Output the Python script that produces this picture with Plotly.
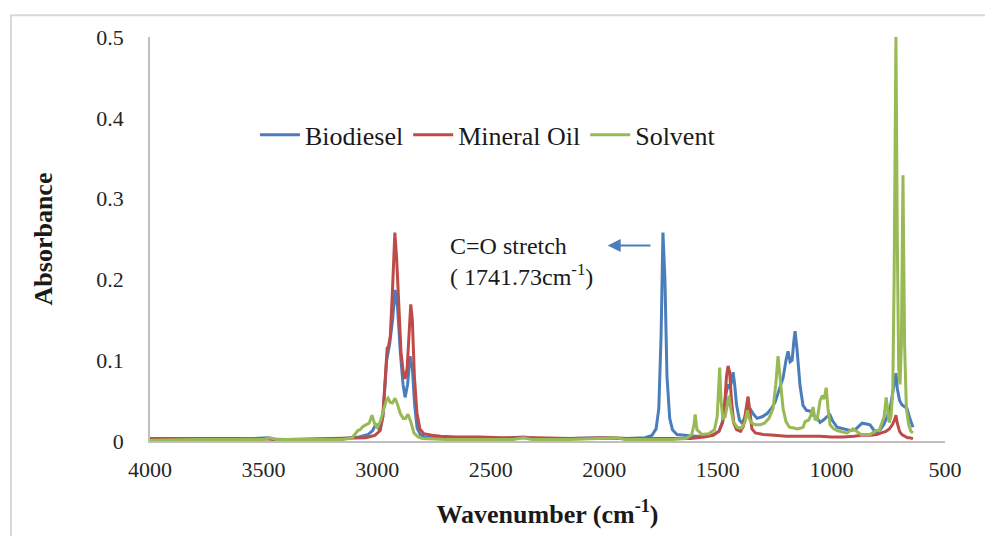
import plotly.graph_objects as go

# FTIR absorbance spectra (wavenumber in cm-1, absorbance)
biodiesel_wn = [4000, 3800, 3600, 3480, 3460, 3300, 3150, 3080, 3040, 3020, 3005, 2987,
                2975, 2965, 2958, 2945, 2932, 2921, 2910, 2898, 2886, 2877, 2866, 2855,
                2845, 2835, 2824, 2810, 2790, 2750, 2600, 2450, 2357, 2300, 2150, 2000,
                1900, 1820, 1790, 1772, 1760, 1750, 1741.73, 1733, 1724, 1712, 1700, 1680,
                1650, 1600, 1560, 1520, 1495, 1478, 1466, 1456, 1446, 1438, 1433, 1426,
                1418, 1405, 1393, 1380, 1370, 1358, 1343, 1327, 1305, 1283, 1265, 1248,
                1230, 1213, 1200, 1191, 1182, 1173, 1165, 1160, 1152, 1145, 1138, 1125,
                1110, 1094, 1081, 1065, 1050, 1035, 1020, 1006, 995, 975, 950, 918,
                895, 880, 865, 845, 830, 815, 799, 785, 770, 755, 742, 730, 722,
                716, 710, 700, 690, 678, 667, 655, 641]
biodiesel_abs = [0.002, 0.002, 0.002, 0.004, 0.002, 0.002, 0.003, 0.005, 0.008, 0.013, 0.021, 0.012,
                 0.03, 0.07, 0.1, 0.12, 0.15, 0.187, 0.165, 0.11, 0.07, 0.054, 0.07, 0.105,
                 0.09, 0.045, 0.016, 0.008, 0.005, 0.004, 0.003, 0.003, 0.005, 0.003, 0.003, 0.004,
                 0.003, 0.004, 0.007, 0.015, 0.04, 0.13, 0.258, 0.2, 0.08, 0.028, 0.014, 0.008,
                 0.007, 0.006, 0.006, 0.008, 0.012, 0.025, 0.055, 0.07, 0.065, 0.075, 0.085, 0.07,
                 0.045, 0.026, 0.022, 0.03, 0.04, 0.04, 0.033, 0.028, 0.03, 0.034, 0.04, 0.048,
                 0.065, 0.078, 0.1, 0.111, 0.098, 0.1, 0.125, 0.136, 0.115, 0.09, 0.068, 0.044,
                 0.038, 0.037, 0.032, 0.029, 0.023, 0.026, 0.03, 0.032, 0.025, 0.017, 0.015, 0.013,
                 0.014, 0.018, 0.022, 0.021, 0.02, 0.014, 0.011, 0.014, 0.02, 0.03, 0.04, 0.06, 0.075,
                 0.084, 0.065, 0.05, 0.045, 0.042, 0.04, 0.028, 0.017]

mineral_wn = [4000, 3800, 3600, 3400, 3200, 3100, 3050, 3010, 2990, 2975, 2965, 2956,
              2950, 2942, 2932, 2922, 2914, 2905, 2895, 2885, 2877, 2868, 2860, 2852,
              2845, 2836, 2825, 2812, 2795, 2760, 2720, 2650, 2550, 2450, 2300, 2150,
              2000, 1900, 1800, 1700, 1620, 1560, 1520, 1495, 1480, 1470, 1462, 1455,
              1448, 1440, 1430, 1418, 1400, 1388, 1380, 1373, 1367, 1360, 1350, 1335,
              1300, 1250, 1200, 1150, 1100, 1050, 1000, 950, 900, 870, 830, 800,
              780, 760, 745, 732, 722, 716, 710, 700, 690, 680, 665, 655, 641]
mineral_abs = [0.003, 0.003, 0.003, 0.002, 0.003, 0.003, 0.004, 0.007, 0.012, 0.03, 0.07, 0.115,
               0.117, 0.13, 0.19, 0.258, 0.225, 0.16, 0.11, 0.085, 0.077, 0.09, 0.13, 0.169,
               0.15, 0.08, 0.035, 0.015, 0.009, 0.007, 0.006, 0.005, 0.005, 0.004, 0.004, 0.003,
               0.004, 0.003, 0.003, 0.003, 0.003, 0.005, 0.007, 0.012, 0.022, 0.045, 0.08, 0.093,
               0.085, 0.05, 0.022, 0.014, 0.012, 0.018, 0.03, 0.045, 0.055, 0.035, 0.015, 0.01,
               0.008, 0.007, 0.006, 0.006, 0.006, 0.006, 0.005, 0.005, 0.006, 0.007, 0.007, 0.008,
               0.01, 0.012, 0.015, 0.02, 0.026, 0.032, 0.022, 0.012, 0.008, 0.006, 0.004, 0.004, 0.003]

solvent_wn = [4000, 3800, 3600, 3500, 3472, 3445, 3300, 3150, 3110, 3095, 3085, 3075,
              3062, 3050, 3035, 3023, 3012, 3000, 2985, 2970, 2960, 2952, 2943, 2933,
              2921, 2910, 2898, 2885, 2875, 2864, 2852, 2838, 2820, 2800, 2700, 2550,
              2400, 2357, 2320, 2150, 2000, 1944, 1910, 1800, 1700, 1640, 1615, 1605,
              1600, 1592, 1570, 1540, 1515, 1503, 1497, 1492, 1486, 1478, 1468, 1458,
              1451, 1443, 1432, 1415, 1395, 1380, 1370, 1362, 1350, 1335, 1314, 1295,
              1275, 1257, 1245, 1235, 1226, 1213, 1200, 1185, 1165, 1151, 1135, 1125,
              1116, 1100, 1090, 1081, 1072, 1063, 1050, 1040, 1032, 1023, 1015, 1006,
              990, 975, 950, 931, 905, 885, 870, 850, 830, 803, 790, 777, 768,
              759, 752, 746, 738, 730, 724, 716, 710, 704, 698, 692, 685, 678,
              670, 660, 650, 641]
solvent_abs = [0.001, 0.002, 0.002, 0.002, 0.004, 0.002, 0.002, 0.002, 0.004, 0.01, 0.013, 0.014,
               0.018, 0.02, 0.022, 0.032, 0.022, 0.016, 0.025, 0.04, 0.05, 0.053, 0.048, 0.047,
               0.053, 0.045, 0.034, 0.028, 0.028, 0.033, 0.024, 0.01, 0.005, 0.003, 0.002, 0.002,
               0.002, 0.004, 0.002, 0.002, 0.003, 0.004, 0.002, 0.002, 0.002, 0.003, 0.008, 0.02,
               0.033, 0.014, 0.008, 0.009, 0.014, 0.03, 0.06, 0.091, 0.05, 0.028, 0.03, 0.045,
               0.056, 0.04, 0.024, 0.017, 0.016, 0.024, 0.038, 0.028, 0.022, 0.02, 0.02, 0.022,
               0.028, 0.04, 0.07, 0.105, 0.08, 0.04, 0.024, 0.017, 0.016, 0.015, 0.016, 0.017,
               0.024, 0.026, 0.032, 0.042, 0.027, 0.026, 0.05, 0.056, 0.052, 0.066, 0.04, 0.02,
               0.015, 0.013, 0.011, 0.01, 0.015, 0.011, 0.008, 0.008, 0.008, 0.013, 0.013, 0.023, 0.03,
               0.054, 0.035, 0.023, 0.03, 0.06, 0.2, 0.5, 0.25, 0.09, 0.07, 0.12, 0.329, 0.12,
               0.04, 0.02, 0.012, 0.01]

x_ticks = [4000, 3500, 3000, 2500, 2000, 1500, 1000, 500]
y_ticks = [0, 0.1, 0.2, 0.3, 0.4, 0.5]
y_tick_text = ["0", "0.1", "0.2", "0.3", "0.4", "0.5"]

series_names = ["Biodiesel", "Mineral Oil", "Solvent"]
series_colors = ["#4a7ebb", "#be4b48", "#98b954"]

SERIF = "Liberation Serif, Times New Roman, serif"

fig = go.Figure()
for name, color, wn, ab in zip(series_names, series_colors,
                               [biodiesel_wn, mineral_wn, solvent_wn],
                               [biodiesel_abs, mineral_abs, solvent_abs]):
    fig.add_trace(go.Scatter(x=wn, y=ab, mode="lines", name=name,
                             line=dict(color=color, width=3),
                             cliponaxis=True))

# carbonyl band label with arrow
fig.add_annotation(x=2688, y=0.222, xref="x", yref="y",
                   text="C=O stretch<br>( 1741.73cm<sup>-1</sup>)",
                   showarrow=False, xanchor="left", yanchor="middle", align="left",
                   font=dict(family=SERIF, size=24, color="#1a1a1a"))
fig.add_annotation(x=1985, y=0.242, ax=1790, ay=0.242,
                   xref="x", yref="y", axref="x", ayref="y",
                   text="", showarrow=True, arrowhead=2, arrowsize=1.3,
                   arrowwidth=2, arrowcolor="#4a7ebb")

# outer chart frame
fig.add_shape(type="rect", xref="paper", yref="paper",
              x0=(11 - 150) / 795, x1=(995 - 150) / 795,
              y0=(446 - 545) / 409, y1=(446 - 15) / 409,
              line=dict(color="#d9d9d9", width=2), fillcolor="rgba(0,0,0,0)",
              layer="below")

fig.update_layout(
    width=985, height=536,
    margin=dict(l=150, r=40, t=37, b=90),
    paper_bgcolor="white", plot_bgcolor="white",
    font=dict(family=SERIF, color="#262626"),
    showlegend=True,
    legend=dict(orientation="h", x=0.132, y=0.758, xanchor="left", yanchor="middle",
                font=dict(family=SERIF, size=26, color="#1a1a1a"),
                bgcolor="rgba(0,0,0,0)", itemwidth=40, tracegroupgap=0),
    xaxis=dict(range=[4000, 500], tickvals=x_ticks, showgrid=False, zeroline=False,
               showline=True, linecolor="#bfbfbf", linewidth=1.5,
               ticks="", ticklabelstandoff=8,
               tickfont=dict(family=SERIF, size=22, color="#262626"),
               title=dict(text="Wavenumber (cm<sup>-1</sup>)", standoff=24,
                          font=dict(family=SERIF, size=26, color="#1a1a1a", weight="bold"))),
    yaxis=dict(range=[0, 0.5], tickvals=y_ticks, ticktext=y_tick_text, showgrid=False,
               zeroline=False, showline=True, linecolor="#bfbfbf", linewidth=1.5,
               ticks="", ticklabelstandoff=20,
               tickfont=dict(family=SERIF, size=22, color="#262626"),
               title=dict(text="Absorbance", standoff=36,
                          font=dict(family=SERIF, size=26, color="#1a1a1a", weight="bold"))),
)

fig.write_html("out.html")
